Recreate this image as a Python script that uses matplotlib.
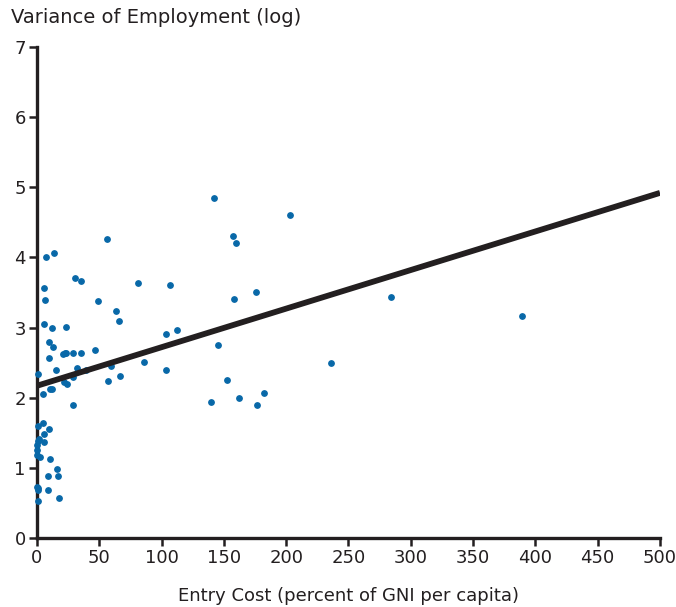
import numpy as np
import matplotlib.pyplot as plt

# Entry cost (percent of GNI per capita) and log variance of employment
entry_cost = [
    7.0, 13.9, 30.8, 35.6, 5.9, 6.4, 48.7, 63.1, 66.1, 5.9,
    11.8, 23.3, 9.9, 12.8, 9.9, 20.6, 22.2, 23.5, 28.9, 35.1,
    46.3, 0.5, 15.0, 32.1, 39.3, 59.6, 66.9, 57.0, 29.1, 21.7,
    24.1, 10.7, 12.0, 5.1, 28.6, 5.1, 0.5, 9.4, 5.9, 1.6,
    0.5, 0.3, 5.4, 0.3, 0.0, 2.4, 10.2, 16.1, 8.8, 17.1,
    0.0, 0.5, 1.0, 8.6, 0.5, 17.4,
    142.3, 55.9, 157.3, 159.7, 81.1, 106.7, 176.0, 157.9, 103.8, 112.1,
    145.3, 85.9, 103.8, 152.2, 139.6, 162.1, 182.4, 176.8,
    203.0, 236.0, 284.5, 389.2,
]
log_variance = [
    4.01, 4.07, 3.71, 3.67, 3.57, 3.39, 3.38, 3.23, 3.09, 3.05,
    3.00, 3.01, 2.79, 2.72, 2.57, 2.62, 2.64, 2.64, 2.64, 2.64,
    2.68, 2.34, 2.39, 2.43, 2.39, 2.45, 2.31, 2.24, 2.30, 2.23,
    2.19, 2.12, 2.12, 2.05, 1.90, 1.64, 1.60, 1.56, 1.48, 1.41,
    1.38, 1.33, 1.37, 1.26, 1.19, 1.16, 1.13, 0.99, 0.88, 0.89,
    0.73, 0.71, 0.68, 0.68, 0.53, 0.57,
    4.85, 4.26, 4.31, 4.20, 3.64, 3.60, 3.51, 3.40, 2.91, 2.96,
    2.75, 2.51, 2.39, 2.25, 1.94, 2.00, 2.06, 1.89,
    4.60, 2.49, 3.43, 3.17,
]

# fitted line, start and end values
fit_x = [0, 500]
fit_y = [2.17, 4.92]

fig = plt.figure(figsize=(6.76, 6.07), dpi=100)
ax = fig.add_axes([0.0547, 0.1137, 0.9216, 0.8089])

ax.scatter(entry_cost, log_variance, s=15, color="#0868a8", zorder=3, clip_on=False)
ax.plot(fit_x, fit_y, color="#231f20", linewidth=4.2, solid_capstyle="butt", zorder=4)

ax.set_xlim(0, 500)
ax.set_ylim(0, 7)
ax.set_xticks(np.arange(0, 501, 50))
ax.set_yticks(np.arange(0, 8, 1))

for side in ["top", "right"]:
    ax.spines[side].set_visible(False)
for side in ["left", "bottom"]:
    ax.spines[side].set_linewidth(2.4)
    ax.spines[side].set_color("#231f20")

ax.tick_params(direction="out", length=6, width=1.8, color="#231f20",
               labelsize=13, labelcolor="#231f20", pad=2)

ax.set_xlabel("Entry Cost (percent of GNI per capita)", fontsize=13,
              color="#231f20", labelpad=14)
fig.text(0.016, 0.971, "Variance of Employment (log)", fontsize=14,
         color="#231f20", ha="left", va="center")

fig.savefig("out.png", dpi=100)
